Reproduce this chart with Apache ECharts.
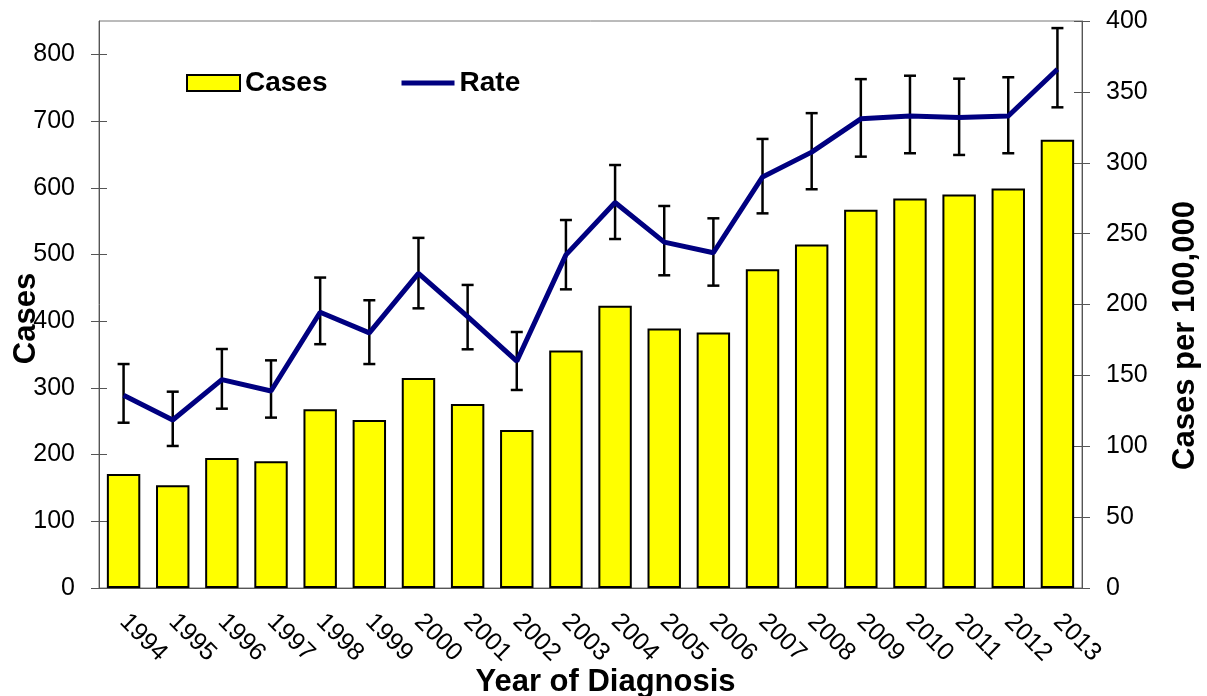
<!DOCTYPE html>
<html>
<head>
<meta charset="utf-8">
<script src="https://cdn.jsdelivr.net/npm/echarts@6/dist/echarts.min.js"></script>
<style>
  html, body { margin: 0; padding: 0; background: #fff; }
  #chart { width: 1207px; height: 696px; }
</style>
</head>
<body>
<div id="chart"></div>
<script>
const years = ['1994', '1995', '1996', '1997', '1998', '1999', '2000', '2001', '2002', '2003',
  '2004', '2005', '2006', '2007', '2008', '2009', '2010', '2011', '2012', '2013'];
const cases = [171, 154, 195, 190, 268, 252, 315, 276, 237, 356,
  423, 389, 383, 478, 515, 567, 584, 590, 599, 672];
const rate = [136, 118.5, 147, 139, 194.5, 180, 222, 191.5, 160, 235,
  272, 244, 236.5, 290, 307.5, 331, 333, 332, 333, 366];
const rateLow = [116.6, 100.2, 126.5, 120.2, 172, 158, 197.3, 168.4, 139.7, 210.7,
  246.2, 220.6, 213.3, 264.3, 281.3, 304.3, 306.7, 305.5, 306.7, 339.1];
const rateHigh = [158, 138.5, 168.6, 160.6, 219, 203, 247, 213.8, 180.6, 259.6,
  298.4, 269.5, 260.8, 316.8, 335, 359, 361.4, 359.3, 360.3, 395];
const casesTicks = [0, 100, 200, 300, 400, 500, 600, 700, 800];

const font = 'Arial, "Liberation Sans", sans-serif';
const axisGrey = '#555';
const navy = '#000080';
const titleStyle = { fontFamily: font, fontSize: 31, fontWeight: 'bold', color: '#000' };

const chart = echarts.init(document.getElementById('chart'));

const errorBars = years.map((y, i) => [i, rateLow[i], rateHigh[i]]);

chart.setOption({
  animation: false,
  textStyle: { fontFamily: font },
  grid: {
    left: 99, right: 125, top: 21, bottom: 108,
    show: true, borderColor: '#777', borderWidth: 1,
    outerBoundsMode: 'none',
  },
  legend: {
    left: 181, top: 64,
    itemWidth: 53, itemHeight: 16, itemGap: 74,
    textStyle: { fontFamily: font, fontSize: 28, fontWeight: 'bold', color: '#000' },
    data: [
      { name: 'Cases', icon: 'rect' },
      { name: 'Rate', icon: 'path://M0,0L106,0L106,10L0,10Z', itemStyle: { color: navy, borderWidth: 0 } },
    ],
  },
  xAxis: [
    {
      type: 'category',
      data: years,
      position: 'bottom',
      axisLine: { lineStyle: { color: axisGrey, width: 1 } },
      axisTick: { length: 8, lineStyle: { color: axisGrey } },
      axisLabel: { rotate: -45, fontSize: 25, color: '#000', margin: 30, interval: 0 },
      name: 'Year of Diagnosis',
      nameLocation: 'middle',
      nameGap: 79,
      nameMoveOverlap: false,
      nameTextStyle: Object.assign({ padding: [0, 0, 0, 30] }, titleStyle),
    },
    {
      type: 'category',
      data: years,
      position: 'bottom',
      axisLine: { show: false },
      axisTick: { inside: true, length: 8, lineStyle: { color: axisGrey } },
      axisLabel: { show: false },
    },
  ],
  yAxis: [
    {
      type: 'value',
      position: 'left',
      min: 0, max: 850,
      splitLine: { show: false },
      axisLine: { show: true, lineStyle: { color: axisGrey } },
      axisTick: { show: true, length: 8, customValues: casesTicks, lineStyle: { color: axisGrey } },
      axisLabel: { fontSize: 25, color: '#000', margin: 24, customValues: casesTicks },
      name: 'Cases',
      nameLocation: 'middle',
      nameGap: 57,
      nameMoveOverlap: false,
      nameTextStyle: Object.assign({ padding: [0, 28, 0, 0] }, titleStyle),
    },
    {
      type: 'value',
      position: 'right',
      min: 0, max: 400, interval: 50,
      splitLine: { show: false },
      axisLine: { show: true, lineStyle: { color: axisGrey } },
      axisTick: { show: true, length: 8, lineStyle: { color: axisGrey } },
      axisLabel: { fontSize: 25, color: '#000', margin: 24 },
      name: 'Cases per 100,000',
      nameLocation: 'middle',
      nameGap: 88,
      nameMoveOverlap: false,
      nameTextStyle: Object.assign({ padding: [0, 62, 0, 0] }, titleStyle),
    },
    {
      type: 'value',
      position: 'left',
      min: 0, max: 850,
      splitLine: { show: false },
      axisLine: { show: false },
      axisTick: { show: true, inside: true, length: 8, customValues: casesTicks, lineStyle: { color: axisGrey } },
      axisLabel: { show: false },
    },
    {
      type: 'value',
      position: 'right',
      min: 0, max: 400, interval: 50,
      splitLine: { show: false },
      axisLine: { show: false },
      axisTick: { show: true, inside: true, length: 8, lineStyle: { color: axisGrey } },
      axisLabel: { show: false },
    },
  ],
  series: [
    {
      name: 'Cases',
      type: 'bar',
      data: cases,
      barCategoryGap: '32%',
      itemStyle: { color: '#ffff00', borderColor: '#000', borderWidth: 2 },
      z: 1,
    },
    {
      name: 'Rate error',
      type: 'custom',
      yAxisIndex: 1,
      data: errorBars,
      encode: { x: 0, y: [1, 2] },
      z: 2,
      renderItem: (params, api) => {
        const top = api.coord([api.value(0), api.value(2)]);
        const bot = api.coord([api.value(0), api.value(1)]);
        const hw = 6;
        const style = { stroke: '#000', lineWidth: 2.5 };
        return {
          type: 'group',
          children: [
            { type: 'line', shape: { x1: top[0], y1: top[1], x2: bot[0], y2: bot[1] }, style },
            { type: 'line', shape: { x1: top[0] - hw, y1: top[1], x2: top[0] + hw, y2: top[1] }, style },
            { type: 'line', shape: { x1: bot[0] - hw, y1: bot[1], x2: bot[0] + hw, y2: bot[1] }, style },
          ],
        };
      },
    },
    {
      name: 'Rate',
      type: 'line',
      yAxisIndex: 1,
      data: rate,
      symbol: 'none',
      lineStyle: { color: navy, width: 5 },
      itemStyle: { color: navy },
      z: 3,
    },
  ],
});
</script>
</body>
</html>
